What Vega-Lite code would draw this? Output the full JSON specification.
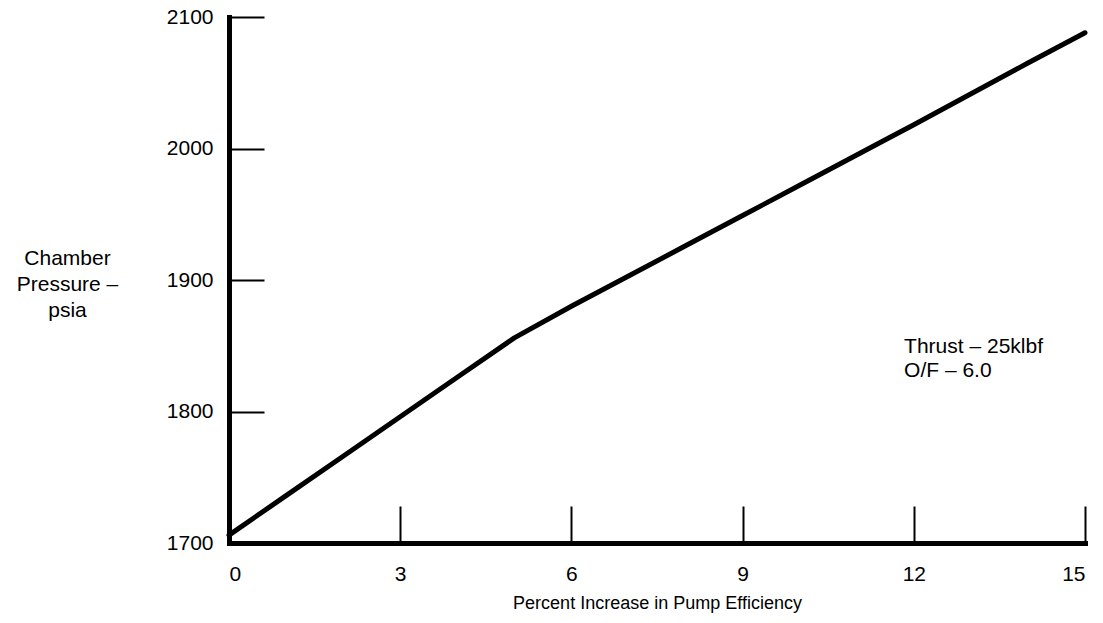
{
  "$schema": "https://vega.github.io/schema/vega-lite/v6.json",
  "width": 856,
  "height": 526,
  "autosize": "none",
  "padding": {"left": 229, "top": 17, "right": 18, "bottom": 80},
  "background": "white",
  "config": {
    "view": {"stroke": null},
    "font": "Liberation Sans",
    "axis": {
      "grid": false,
      "domainColor": "black",
      "domainWidth": 5,
      "domainCap": "square",
      "tickColor": "black",
      "tickWidth": 2,
      "labelColor": "black",
      "labelFont": "Liberation Sans",
      "labelFontSize": 21,
      "titleFont": "Liberation Sans",
      "titleFontSize": 21,
      "titleFontWeight": "normal",
      "titleColor": "black"
    }
  },
  "datasets": {
    "curve": [
      {"eff": 0, "pc": 1706},
      {"eff": 1, "pc": 1736},
      {"eff": 2, "pc": 1766},
      {"eff": 3, "pc": 1796},
      {"eff": 4, "pc": 1826},
      {"eff": 5, "pc": 1856},
      {"eff": 6, "pc": 1880},
      {"eff": 8, "pc": 1926},
      {"eff": 9, "pc": 1949},
      {"eff": 10, "pc": 1972},
      {"eff": 11.56, "pc": 2008},
      {"eff": 12, "pc": 2018},
      {"eff": 14, "pc": 2065},
      {"eff": 15, "pc": 2088}
    ],
    "notes": [
      {"eff": 11.83, "pc": 1849, "label": "Thrust – 25klbf"},
      {"eff": 11.83, "pc": 1831, "label": "O/F – 6.0"}
    ]
  },
  "layer": [
    {
      "data": {"name": "curve"},
      "mark": {"type": "line", "color": "black", "strokeWidth": 5, "strokeCap": "round", "strokeJoin": "round", "clip": false},
      "encoding": {
        "x": {
          "field": "eff",
          "type": "quantitative",
          "scale": {"domain": [0, 15], "nice": false, "zero": false},
          "axis": {
            "values": [0, 3, 6, 9, 12, 15],
            "format": "d",
            "tickSize": -37,
            "labelPadding": 57,
            "title": "Percent Increase in Pump Efficiency",
            "titleFontSize": 18,
            "titlePadding": 10
          }
        },
        "y": {
          "field": "pc",
          "type": "quantitative",
          "scale": {"domain": [1700, 2100], "nice": false, "zero": false},
          "axis": {
            "values": [1700, 1800, 1900, 2000, 2100],
            "format": "d",
            "tickSize": -35,
            "labelPadding": 51,
            "title": ["Chamber", "Pressure –", "psia"],
            "titleAngle": 0,
            "titleAlign": "center",
            "titleBaseline": "top",
            "titleX": -162,
            "titleY": 230,
            "titleLineHeight": 26
          }
        }
      }
    },
    {
      "data": {"name": "notes"},
      "mark": {"type": "text", "align": "left", "baseline": "middle", "fontSize": 21, "font": "Liberation Sans", "color": "black"},
      "encoding": {
        "x": {"field": "eff", "type": "quantitative"},
        "y": {"field": "pc", "type": "quantitative"},
        "text": {"field": "label"}
      }
    }
  ]
}
